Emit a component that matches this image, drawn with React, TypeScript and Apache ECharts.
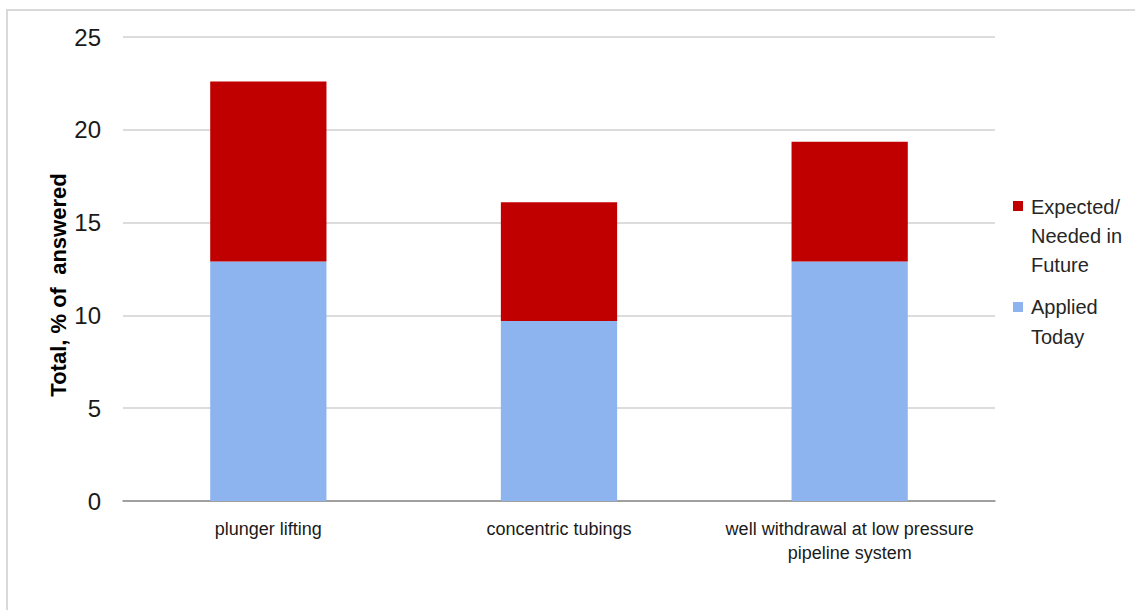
import React, { useEffect, useRef } from "react";
import * as echarts from "echarts";

const categories = [
  "plunger lifting",
  "concentric tubings",
  "well withdrawal at low pressure\npipeline system",
];
const appliedToday = [12.9, 9.7, 12.9];
const expectedFuture = [9.7, 6.4, 6.45];
const yTicks = [0, 5, 10, 15, 20, 25];
const seriesNames = ["Expected/\nNeeded in\nFuture", "Applied\nToday"];
const yAxisTitle = "Total, % of  answered";

const NARROW = "'Liberation Sans Narrow', 'Arial Narrow', 'Liberation Sans', Arial, sans-serif";
const SANS = "'Liberation Sans', Arial, sans-serif";

export default function App() {
  const ref = useRef<HTMLDivElement>(null);
  useEffect(() => {
    if (!ref.current) return;
    const chart = echarts.init(ref.current, null, { renderer: "svg" });
    chart.setOption({
      animation: false,
      backgroundColor: "#ffffff",
      grid: { left: 123, right: 140, top: 37, bottom: 109 },
      xAxis: {
        type: "category",
        data: categories,
        axisLine: { lineStyle: { color: "#8c8c8c", width: 1.5 } },
        axisTick: { length: 6, lineStyle: { color: "#8c8c8c", width: 1.5 } },
        axisLabel: {
          interval: 0,
          fontFamily: NARROW,
          fontSize: 18,
          color: "#1a1a1a",
          lineHeight: 24,
          margin: 16,
        },
      },
      yAxis: {
        type: "value",
        min: yTicks[0],
        max: yTicks[yTicks.length - 1],
        interval: 5,
        axisLine: { show: false },
        axisTick: { show: false },
        splitLine: { lineStyle: { color: "#d0d0d0", width: 1.5 } },
        axisLabel: {
          fontFamily: NARROW,
          fontSize: 24,
          color: "#1a1a1a",
          margin: 22,
        },
      },
      series: [
        {
          name: seriesNames[1],
          type: "bar",
          stack: "total",
          data: appliedToday,
          barWidth: "40%",
          itemStyle: { color: "#8eb4f0" },
        },
        {
          name: seriesNames[0],
          type: "bar",
          stack: "total",
          data: expectedFuture,
          barWidth: "40%",
          itemStyle: { color: "#c00000" },
        },
      ],
      graphic: [
        {
          type: "rect",
          shape: { x: 7, y: 10, width: 1200, height: 700 },
          style: { fill: "none", stroke: "#d9d9d9", lineWidth: 2 },
          silent: true,
          z: -1,
        },
        {
          type: "text",
          x: 58,
          y: 285,
          rotation: Math.PI / 2,
          style: {
            text: yAxisTitle,
            font: "bold 22px " + SANS,
            fill: "#000000",
            align: "center",
            verticalAlign: "middle",
          },
        },
        {
          type: "rect",
          shape: { x: 1013, y: 201, width: 10, height: 10 },
          style: { fill: "#c00000" },
        },
        {
          type: "text",
          x: 1031,
          y: 192,
          style: {
            text: seriesNames[0],
            font: "20px " + SANS,
            lineHeight: 29,
            fill: "#262626",
            align: "left",
            verticalAlign: "top",
          },
        },
        {
          type: "rect",
          shape: { x: 1013, y: 302, width: 10, height: 10 },
          style: { fill: "#8eb4f0" },
        },
        {
          type: "text",
          x: 1031,
          y: 292,
          style: {
            text: seriesNames[1],
            font: "20px " + SANS,
            lineHeight: 30,
            fill: "#262626",
            align: "left",
            verticalAlign: "top",
          },
        },
      ],
    });
    return () => chart.dispose();
  }, []);
  return (
    <div
      ref={ref}
      style={{ position: "fixed", left: 0, top: 0, width: 1135, height: 610 }}
    />
  );
}
